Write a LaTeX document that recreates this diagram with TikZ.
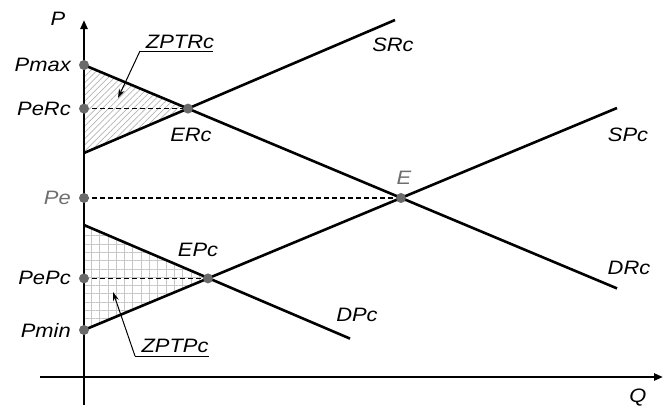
\documentclass[tikz,border=0pt]{standalone}
\usepackage{fontspec}
\setmainfont{Liberation Sans}
\usetikzlibrary{arrows.meta,patterns.meta}
\definecolor{dotgray}{HTML}{6A6A6A}
\definecolor{txtgray}{HTML}{6E6E6E}
\definecolor{hatchgray}{HTML}{B4B4B4}
\definecolor{gridgray}{HTML}{C8C8C8}
\begin{document}
\begin{tikzpicture}[x=1pt,y=-1pt,
 curve/.style={line width=2.6pt},
 axisline/.style={line width=2.4pt,-{Triangle[length=9pt,width=7pt]}},
 guide/.style={line width=1.1pt,dash pattern=on 5pt off 3pt},
 dot/.style={circle,fill=dotgray,inner sep=0pt,minimum size=10pt},
 lbl/.style={font=\fontsize{19.4}{22}\selectfont\itshape,inner sep=0pt,xscale=1.13},
 leader/.style={line width=1pt,-{Stealth[length=9pt,width=6pt]}}]
\useasboundingbox (0,0) rectangle (669,410);
% key points
\coordinate (Pmax) at (84,65);
\coordinate (PeRc) at (84,108.6);
\coordinate (SRc0) at (84,153);
\coordinate (Pe) at (84,198);
\coordinate (DPc0) at (84,225);
\coordinate (PePc) at (84,278.4);
\coordinate (Pmin) at (84,330);
\coordinate (ERc) at (188,108.6);
\coordinate (E) at (401,198);
\coordinate (EPc) at (208,278.4);
\coordinate (SRc1) at (395,20);
\coordinate (DRc1) at (617,288.4);
\coordinate (SPc1) at (617,108);
\coordinate (DPc1) at (350,338.6);
% hatched areas
\fill[pattern={Lines[angle=45,distance=4.4pt,line width=0.7pt]},pattern color=hatchgray] (Pmax) -- (ERc) -- (SRc0) -- cycle;
\fill[pattern={Hatch[angle=0,distance=8.3pt,line width=0.7pt]},pattern color=gridgray] (DPc0) -- (EPc) -- (Pmin) -- cycle;
% axes
\coordinate (Ybot) at (84,405);
\coordinate (Ytop) at (84,20);
\coordinate (Xl) at (40,377);
\coordinate (Xr) at (663,377);
\draw[axisline] (Ybot) -- (Ytop);
\draw[axisline] (Xl) -- (Xr);
% guides
\draw[guide] (PeRc) -- (ERc);
\draw[guide] (Pe) -- (E);
\draw[guide] (PePc) -- (EPc);
% curves
\draw[curve] (Pmax) -- (DRc1);
\draw[curve] (SRc0) -- (SRc1);
\draw[curve] (Pmin) -- (SPc1);
\draw[curve] (DPc0) -- (DPc1);
% dots
\foreach \p in {Pmax,PeRc,Pe,PePc,Pmin,ERc,E,EPc} \node[dot] at (\p) {};
% labels
\node[lbl] (lP) at (58,19) {P};
\node[lbl] (lQ) at (638,398) {Q};
\node[lbl,anchor=east] (lPmax) at (71,65) {Pmax};
\node[lbl,anchor=east] (lPeRc) at (71,108.6) {PeRc};
\node[lbl,anchor=east,text=txtgray] (lPe) at (71,198) {Pe};
\node[lbl,anchor=east] (lPePc) at (71,278.4) {PePc};
\node[lbl,anchor=east] (lPmin) at (71,330) {Pmin};
\node[lbl] (lERc) at (191,135) {ERc};
\node[lbl] (lEPc) at (198,250) {EPc};
\node[lbl,text=txtgray] (lE) at (404,178) {E};
\node[lbl] (lSRc) at (393,45) {SRc};
\node[lbl] (lSPc) at (628,135) {SPc};
\node[lbl] (lDRc) at (629,268) {DRc};
\node[lbl] (lDPc) at (357,315) {DPc};
\node[lbl] (lZR) at (180,42) {ZPTRc};
\node[lbl] (lZP) at (175,346) {ZPTPc};
% underlines and leaders
\coordinate (uR0) at (140,51);
\coordinate (uR1) at (213,51);
\coordinate (tipR) at (118,98);
\coordinate (uP0) at (135,356);
\coordinate (uP1) at (209,356);
\coordinate (tipP) at (113,292);
\draw[line width=1pt] (uR0) -- (uR1);
\draw[line width=1pt] (uP0) -- (uP1);
\draw[leader] (uR0) -- (tipR);
\draw[leader] (uP0) -- (tipP);
\end{tikzpicture}
\end{document}
